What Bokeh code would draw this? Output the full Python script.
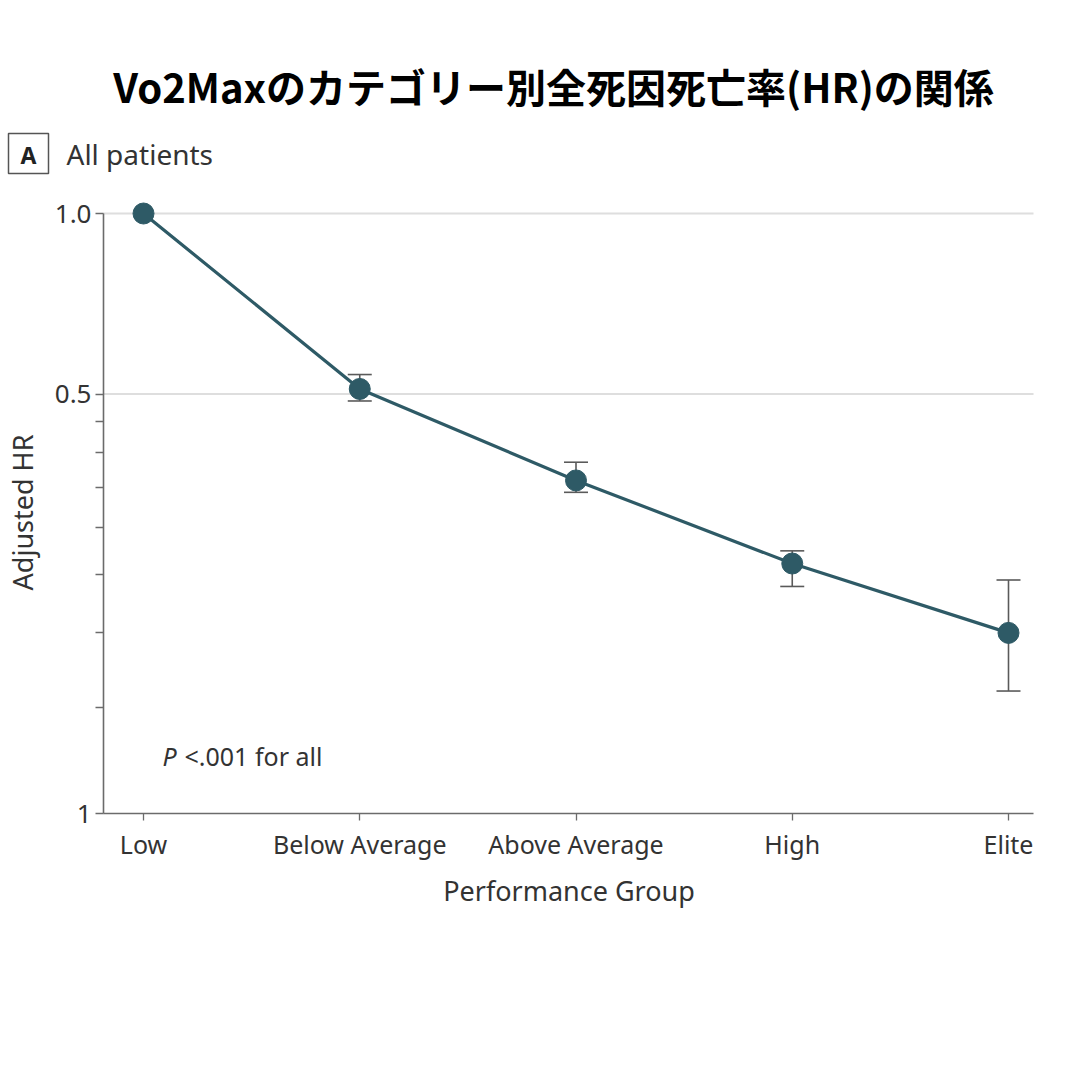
import math
from bokeh.plotting import figure
from bokeh.models import ColumnDataSource, FixedTicker, Whisker, TeeHead, Range1d
from bokeh.core.properties import value
from bokeh.embed import file_html
from bokeh.resources import INLINE

title_text = "Vo2Maxのカテゴリー別全死因死亡率(HR)の関係"
panel_letter = "A"
panel_text = "All patients"
categories = ["Low", "Below Average", "Above Average", "High", "Elite"]
hr = [1.0, 0.510, 0.359, 0.261, 0.200]
ci_lower = [None, 0.487, 0.343, 0.239, 0.160]
ci_upper = [None, 0.539, 0.385, 0.274, 0.245]
y_major = [0.1, 0.5, 1.0]
y_minor = [0.15, 0.2, 0.25, 0.3, 0.35, 0.4, 0.45]
y_grid = [0.5, 1.0]
y_labels = {0.1: "1", 0.5: "0.5", 1.0: "1.0"}
x_label = "Performance Group"
y_label = "Adjusted HR"
p_note_italic = "P"
p_note_rest = "<.001 for all"

LINE = "#2e5a66"
AX = "#6b6b6b"
FONT = "Noto Sans"
TXT = "#333333"

# ---- canvas layout (pixels): the plot frame covers the whole canvas ----
W, H = 1064, 1000
X0_PX, DX_PX = 143, 216.25        # first category position, spacing
Y1_PX, DEC_PX = 213, 600           # pixel row of HR=1.0, pixels per decade
AXIS_LEFT_PX, AXIS_RIGHT_PX = 103, 1033


def px_x(px):
    return (px - X0_PX) / DX_PX


def px_y(py):
    return 10 ** ((Y1_PX - py) / DEC_PX)


xs = list(range(len(categories)))
p = figure(width=W, height=H, y_axis_type="log",
           x_range=Range1d(px_x(0), px_x(W)),
           y_range=Range1d(px_y(H), px_y(0)),
           output_backend="svg", toolbar_location=None,
           min_border=0, min_border_left=0, min_border_right=0,
           min_border_top=0, min_border_bottom=0)
p.outline_line_color = None
p.xgrid.visible = False
p.ygrid.visible = False

x_axis_start, x_axis_end = px_x(AXIS_LEFT_PX), px_x(AXIS_RIGHT_PX)

# horizontal grid lines
p.segment(x0=[x_axis_start] * len(y_grid), x1=[x_axis_end] * len(y_grid),
          y0=y_grid, y1=y_grid, line_color="#dedede", line_width=2)

# y axis (fixed at the left edge of the plotting area)
ya = p.yaxis[0]
ya.fixed_location = x_axis_start
ya.ticker = FixedTicker(ticks=y_major, minor_ticks=y_minor)
ya.major_label_overrides = y_labels
ya.bounds = (min(y_major), max(y_major))
ya.axis_line_color = AX
ya.axis_line_width = 1.6
ya.major_tick_line_color = AX
ya.minor_tick_line_color = AX
ya.major_tick_line_width = 1.3
ya.minor_tick_line_width = 1.3
ya.major_tick_out = 8
ya.major_tick_in = 0
ya.minor_tick_out = 8
ya.minor_tick_in = 0
ya.major_label_text_font = FONT
ya.major_label_text_font_size = "26px"
ya.major_label_text_color = TXT
ya.major_label_standoff = 4

# x axis (fixed at HR = 0.1)
xa = p.xaxis[0]
xa.fixed_location = min(y_major)
xa.ticker = FixedTicker(ticks=xs)
xa.major_label_overrides = {i: c for i, c in enumerate(categories)}
xa.bounds = (x_axis_start, x_axis_end)
xa.minor_tick_line_color = None
xa.axis_line_color = AX
xa.axis_line_width = 1.6
xa.major_tick_line_color = AX
xa.major_tick_line_width = 1.3
xa.major_tick_out = 7
xa.major_tick_in = 0
xa.major_label_text_font = FONT
xa.major_label_text_font_size = "25px"
xa.major_label_text_color = TXT
xa.major_label_standoff = 6

# error bars
err_idx = [i for i in xs if ci_lower[i] is not None]
err_src = ColumnDataSource(dict(
    x=[xs[i] for i in err_idx],
    lower=[ci_lower[i] for i in err_idx],
    upper=[ci_upper[i] for i in err_idx],
))
w = Whisker(source=err_src, base="x", lower="lower", upper="upper",
            line_color="#5a5a5a", line_width=1.6,
            upper_head=TeeHead(size=24, line_color="#5a5a5a", line_width=1.6),
            lower_head=TeeHead(size=24, line_color="#5a5a5a", line_width=1.6),
            level="underlay")
p.add_layout(w)

# HR line and points
src = ColumnDataSource(dict(x=xs, y=hr))
p.line("x", "y", source=src, line_color=LINE, line_width=3.2)
p.scatter("x", "y", source=src, size=21, fill_color=LINE, line_color=LINE)

# axis titles
p.text(x=[px_x(22)], y=[px_y(512)], text=[y_label], angle=math.pi / 2,
       text_align="center", text_baseline="middle",
       text_font=value(FONT), text_font_size="27px", text_color=TXT)
p.text(x=[px_x(568.5)], y=[px_y(890)], text=[x_label],
       text_align="center", text_baseline="middle",
       text_font=value(FONT), text_font_size="27px", text_color=TXT)

# P note
p.text(x=[px_x(162)], y=[px_y(755)], text=[p_note_italic], text_align="left",
       text_baseline="middle", text_font=value(FONT), text_font_size="25px",
       text_font_style="italic", text_color=TXT)
p.text(x=[px_x(184)], y=[px_y(755)], text=[p_note_rest], text_align="left",
       text_baseline="middle", text_font=value(FONT), text_font_size="25px",
       text_color=TXT)

# header: title, panel letter box, panel text
p.text(x=[px_x(553)], y=[px_y(85)], text=[title_text], text_align="center",
       text_baseline="middle", text_font=value("Noto Sans CJK JP"),
       text_font_size="40px", text_font_style="bold", text_color="black")
p.rect(x=[px_x(28)], y=[px_y(153)], width=40, height=40,
       width_units="screen", height_units="screen",
       fill_color="white", line_color="#555555", line_width=1.5)
p.text(x=[px_x(28)], y=[px_y(154)], text=[panel_letter], text_align="center",
       text_baseline="middle", text_font=value(FONT), text_font_size="23px",
       text_font_style="bold", text_color="#222222")
p.text(x=[px_x(66)], y=[px_y(153)], text=[panel_text], text_align="left",
       text_baseline="middle", text_font=value(FONT), text_font_size="28px",
       text_color=TXT)

open("out.html", "w").write(file_html(p, INLINE))
